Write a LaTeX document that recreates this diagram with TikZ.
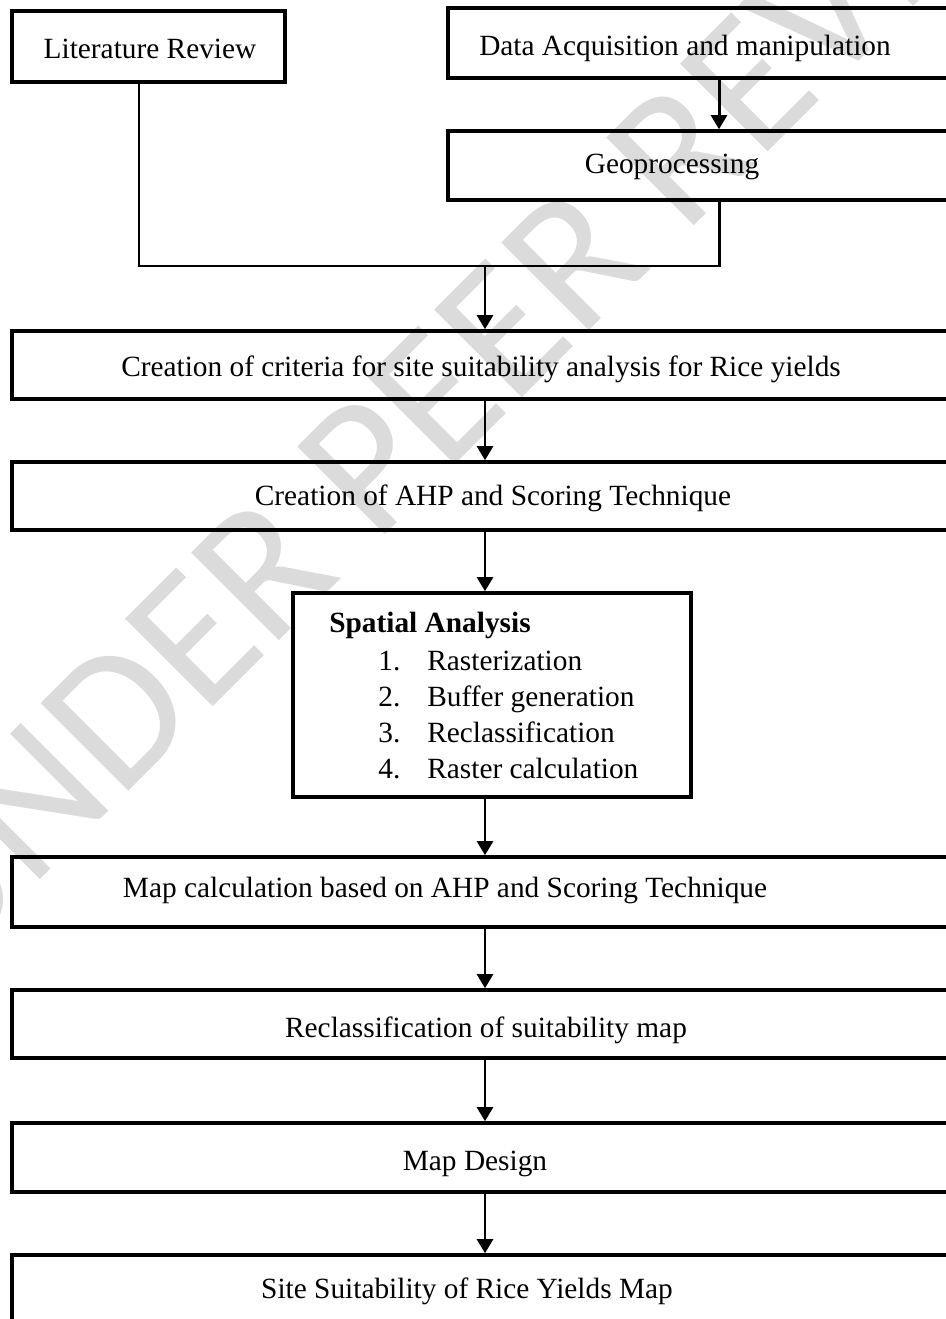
\documentclass[tikz,border=0pt]{standalone}
\usepackage{fontspec}
\setmainfont{Liberation Serif}
\newfontfamily\wmfont{Carlito}
\usetikzlibrary{arrows.meta}

\begin{document}
\begin{tikzpicture}[x=0.02cm,y=-0.02cm,
	box/.style={draw,line width=2pt,inner sep=0pt},
	lbl/.style={inner sep=0pt,anchor=base,font=\fontsize{16.7}{20}\selectfont},
	link/.style={line width=1.7pt},
	arr/.style={link,-{Triangle[width=9pt,length=8pt]}}]
				\useasboundingbox (0,0) rectangle (946,1319);
				
				% watermark
				\node[rotate=45,anchor=base west,inner sep=0pt,text=black!14,font=\wmfont\fontsize{110}{110}\selectfont] (wm) at (-57,977) {UNDER PEER REVIEW};
				
				% top row
				\node[box,minimum width=5.46cm,minimum height=1.42cm] (lit) at (148.5,46.5) {};
				\node[lbl] (lit-t) at (150,58) {Literature Review};
				
				\node[box,minimum width=10.84cm,minimum height=1.4cm] (data) at (719,43) {};
				\node[lbl] (data-t) at (685,55) {Data Acquisition and manipulation};
				
				\node[box,minimum width=10.84cm,minimum height=1.38cm] (geo) at (719,165.5) {};
				\node[lbl] (geo-t) at (672,173) {Geoprocessing};
				
				\coordinate (merge) at (485,266);
				
				% main column
				\node[box,minimum width=18.92cm,minimum height=1.36cm] (crit) at (485,365) {};
				\node[lbl] (crit-t) at (481,376) {Creation of criteria for site suitability analysis for Rice yields};
				
				\node[box,minimum width=18.92cm,minimum height=1.36cm] (ahp) at (485,496) {};
				\node[lbl] (ahp-t) at (493,505) {Creation of AHP and Scoring Technique};
				
				\node[box,minimum width=7.96cm,minimum height=4.08cm] (spat) at (492,695) {};
				\node[lbl,anchor=base west,font=\fontsize{16.7}{20}\selectfont\bfseries] (spat-t) at (329,632) {Spatial Analysis};
				\foreach \t [count=\n] in {Rasterization,Buffer generation,Reclassification,Raster calculation} {
					\node[lbl,anchor=base west] (num-\n) at (378,{670+36.3*(\n-1)}) {\n.};
					\node[lbl,anchor=base west] (item-\n) at (427,{670+36.3*(\n-1)}) {\t};
				}
				
				\node[box,minimum width=18.92cm,minimum height=1.4cm] (map) at (485,892) {};
				\node[lbl] (map-t) at (445,897) {Map calculation based on AHP and Scoring Technique};
				
				\node[box,minimum width=18.92cm,minimum height=1.36cm] (recl) at (485,1024) {};
				\node[lbl] (recl-t) at (486,1037) {Reclassification of suitability map};
				
				\node[box,minimum width=18.92cm,minimum height=1.38cm] (des) at (485,1157.5) {};
				\node[lbl] (des-t) at (475,1170) {Map Design};
				
				\node[box,minimum width=18.92cm,minimum height=1.4cm] (site) at (485,1290) {};
				\node[lbl] (site-t) at (467,1298) {Site Suitability of Rice Yields Map};
				
				% connectors
				\draw[arr] (data) -- (geo);
				\draw[link] ([xshift=-0.19cm]lit.south) |- (merge) -| (geo.south);
				\draw[arr] (merge) -- (crit);
				\draw[arr] (crit) -- (ahp);
				\draw[arr] (ahp.south) -- (ahp.south |- spat.north);
				\draw[arr] (spat.south -| ahp.south) -- (map);
				\draw[arr] (map) -- (recl);
				\draw[arr] (recl) -- (des);
				\draw[arr] (des) -- (site);
			\end{tikzpicture}
\end{document}
